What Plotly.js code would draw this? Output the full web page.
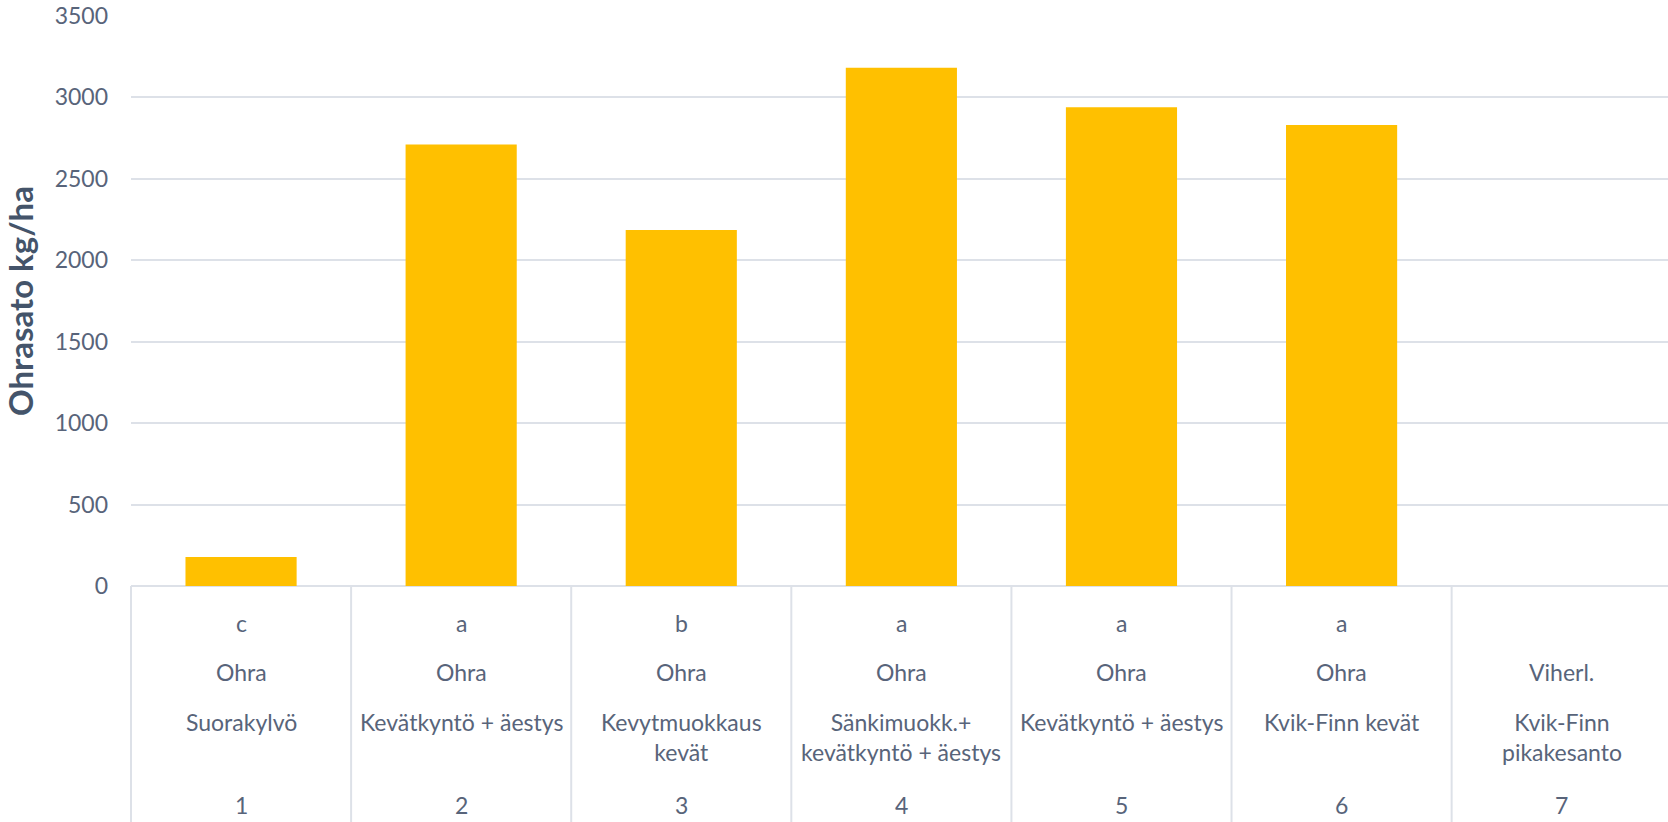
<!DOCTYPE html>
<html>
<head>
<meta charset="utf-8">
<script src="https://cdn.plot.ly/plotly-3.0.1.min.js"></script>
<style>
  html, body { margin: 0; padding: 0; background: #ffffff; }
  #chart { width: 1668px; height: 822px; }
</style>
</head>
<body>
<div id="chart"></div>
<script>
// ---- data ----
const categories = ['1', '2', '3', '4', '5', '6', '7'];
const yields = [178, 2711, 2186, 3183, 2940, 2830, null];   // Ohrasato kg/ha
const letters = ['c', 'a', 'b', 'a', 'a', 'a', ''];
const crops = ['Ohra', 'Ohra', 'Ohra', 'Ohra', 'Ohra', 'Ohra', 'Viherl.'];
const methods = [
  'Suorakylvö',
  'Kevätkyntö + äestys',
  'Kevytmuokkaus<br>kevät',
  'Sänkimuokk.+<br>kevätkyntö + äestys',
  'Kevätkyntö + äestys',
  'Kvik-Finn kevät',
  'Kvik-Finn<br>pikakesanto'
];
const yTicks = [0, 500, 1000, 1500, 2000, 2500, 3000, 3500];
const yTitle = 'Ohrasato kg/ha';

// ---- styling ----
const FONT = 'Lato, "Open Sans", "Noto Sans", sans-serif';
const TEXT_COLOR = '#58647a';
const TITLE_COLOR = '#44546a';
const GRID_COLOR = '#dde1e8';
const BAR_COLOR = '#FFC000';
const xRange = [-0.5, 6.483];

const trace = {
  type: 'bar',
  x: categories,
  y: yields,
  marker: { color: BAR_COLOR, line: { width: 0 } },
  hoverinfo: 'x+y'
};

// separator lines of the category table (positioned via the axis range)
const toPaperX = v => (v - xRange[0]) / (xRange[1] - xRange[0]);
const shapes = categories.map((c, i) => ({
  type: 'line', xref: 'paper', yref: 'paper',
  x0: toPaperX(i - 0.5), x1: toPaperX(i - 0.5),
  y0: 0, y1: -0.6,
  line: { color: GRID_COLOR, width: 2 }
}));

const annFont = { family: FONT, size: 23, color: TEXT_COLOR };
const annotations = [];
categories.forEach((c, i) => {
  // on a category axis, annotation x is the category's serial index
  const base = { x: i, xref: 'x', yref: 'paper', y: 0, showarrow: false, xanchor: 'center', font: annFont };
  if (letters[i]) annotations.push(Object.assign({}, base, { text: letters[i], yanchor: 'middle', yshift: -37 }));
  annotations.push(Object.assign({}, base, { text: crops[i], yanchor: 'middle', yshift: -86 }));
  annotations.push(Object.assign({}, base, { text: methods[i], yanchor: 'top', yshift: -120, align: 'center' }));
  annotations.push(Object.assign({}, base, { text: c, yanchor: 'middle', yshift: -219 }));
});

const layout = {
  width: 1668,
  height: 822,
  margin: { l: 131, r: 0, t: 16, b: 236, pad: 0 },
  paper_bgcolor: '#ffffff',
  plot_bgcolor: '#ffffff',
  showlegend: false,
  bargap: 0.495,
  font: { family: FONT, color: TEXT_COLOR },
  xaxis: {
    type: 'category',
    range: xRange,
    showticklabels: false,
    showgrid: false,
    zeroline: false,
    showline: false,
    ticks: ''
  },
  yaxis: {
    range: [0, 3500],
    tickvals: yTicks,
    ticktext: yTicks.map(String),
    tickfont: { family: FONT, size: 23, color: TEXT_COLOR },
    ticklabelstandoff: 22,
    showgrid: true,
    gridcolor: GRID_COLOR,
    gridwidth: 2,
    zeroline: true,
    zerolinecolor: GRID_COLOR,
    zerolinewidth: 2,
    showline: false,
    ticks: '',
    title: {
      text: yTitle,
      font: { family: FONT, size: 33, color: TITLE_COLOR, weight: 'bold' },
      standoff: 14
    }
  },
  shapes: shapes,
  annotations: annotations
};

Plotly.newPlot('chart', [trace], layout, { displayModeBar: false, responsive: false });
</script>
</body>
</html>
